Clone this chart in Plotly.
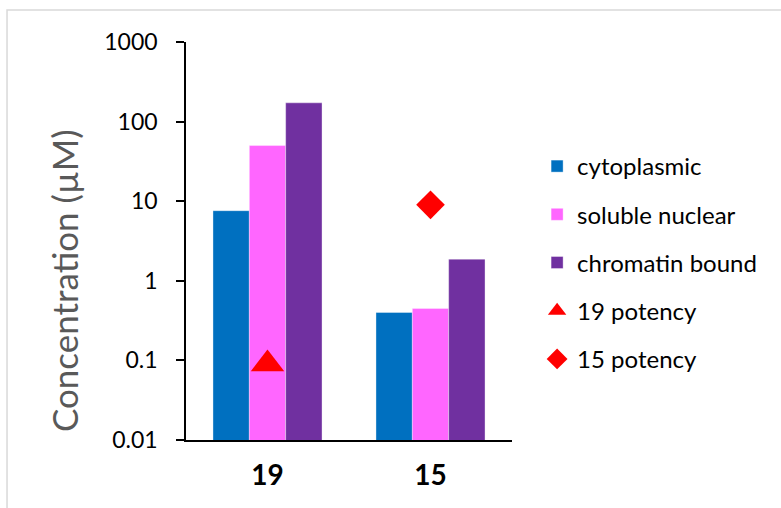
import plotly.graph_objects as go

# Compounds on the category axis
compounds = ["19", "15"]

# Subcellular concentrations (µM)
cytoplasmic = [7.6, 0.40]
soluble_nuclear = [50, 0.45]
chromatin_bound = [172, 1.87]

# Potency of each compound (µM)
potency_19 = 0.09
potency_15 = 9

FONT = "Lato"

fig = go.Figure()

bar_series = [
    ("cytoplasmic", cytoplasmic, "#0070C0"),
    ("soluble nuclear", soluble_nuclear, "#FF66FF"),
    ("chromatin bound", chromatin_bound, "#7030A0"),
]
for name, vals, color in bar_series:
    fig.add_trace(go.Bar(
        x=compounds, y=vals, name=name, legendgroup=name,
        marker=dict(color=color, line=dict(color="rgba(255,255,255,0.6)", width=0.6)),
    ))

fig.add_trace(go.Scatter(
    x=[compounds[0]], y=[potency_19], name="19 potency", legendgroup="p19",
    mode="markers",
    marker=dict(symbol="triangle-up", size=29, color="#FF0000"),
))
fig.add_trace(go.Scatter(
    x=[compounds[1]], y=[potency_15], name="15 potency", legendgroup="p15",
    mode="markers",
    marker=dict(symbol="diamond", size=22, color="#FF0000"),
))

# Outer chart border (light gray frame)
fig.add_shape(type="rect", xref="paper", yref="paper",
              x0=-0.549, x1=2.0, y0=-1.0, y1=1.0804,
              line=dict(color="#D9D9D9", width=1.5), fillcolor="rgba(0,0,0,0)",
              layer="below")

# Y axis title, placed as a rotated annotation left of the tick labels
fig.add_annotation(
    text="Concentration (µM)", textangle=-90,
    xref="paper", yref="paper", x=-0.374, y=0.3995,
    xanchor="center", yanchor="middle", showarrow=False,
    font=dict(family=FONT, size=35, color="#595959"),
)

fig.update_layout(
    width=781, height=508,
    margin=dict(l=186, r=269, t=42, b=68),
    paper_bgcolor="white", plot_bgcolor="white",
    barmode="group", bargap=0.331, bargroupgap=0,
    font=dict(family=FONT, color="#000000"),
    showlegend=True,
    legend=dict(
        x=1.077, xanchor="left", y=0.7437, yanchor="top",
        font=dict(family=FONT, size=24, color="#000000"),
        tracegroupgap=14, itemwidth=30,
        bgcolor="rgba(0,0,0,0)",
    ),
    xaxis=dict(
        type="category",
        showline=True, linecolor="#000000", linewidth=1.5,
        ticks="", showgrid=False, zeroline=False,
        tickfont=dict(family=FONT, size=28, color="#000000", weight="bold"),
        ticklabelstandoff=10,
    ),
    yaxis=dict(
        type="log", range=[-2, 3],
        tickvals=[0.01, 0.1, 1, 10, 100, 1000],
        ticktext=["0.01", "0.1", "1", "10", "100", "1000"],
        showline=True, linecolor="#000000", linewidth=1.5,
        ticks="outside", ticklen=8, tickwidth=1.5, tickcolor="#000000",
        showgrid=False, zeroline=False,
        tickfont=dict(family=FONT, size=23, color="#000000"),
        ticklabelstandoff=14,
    ),
)

fig.write_html("out.html")
